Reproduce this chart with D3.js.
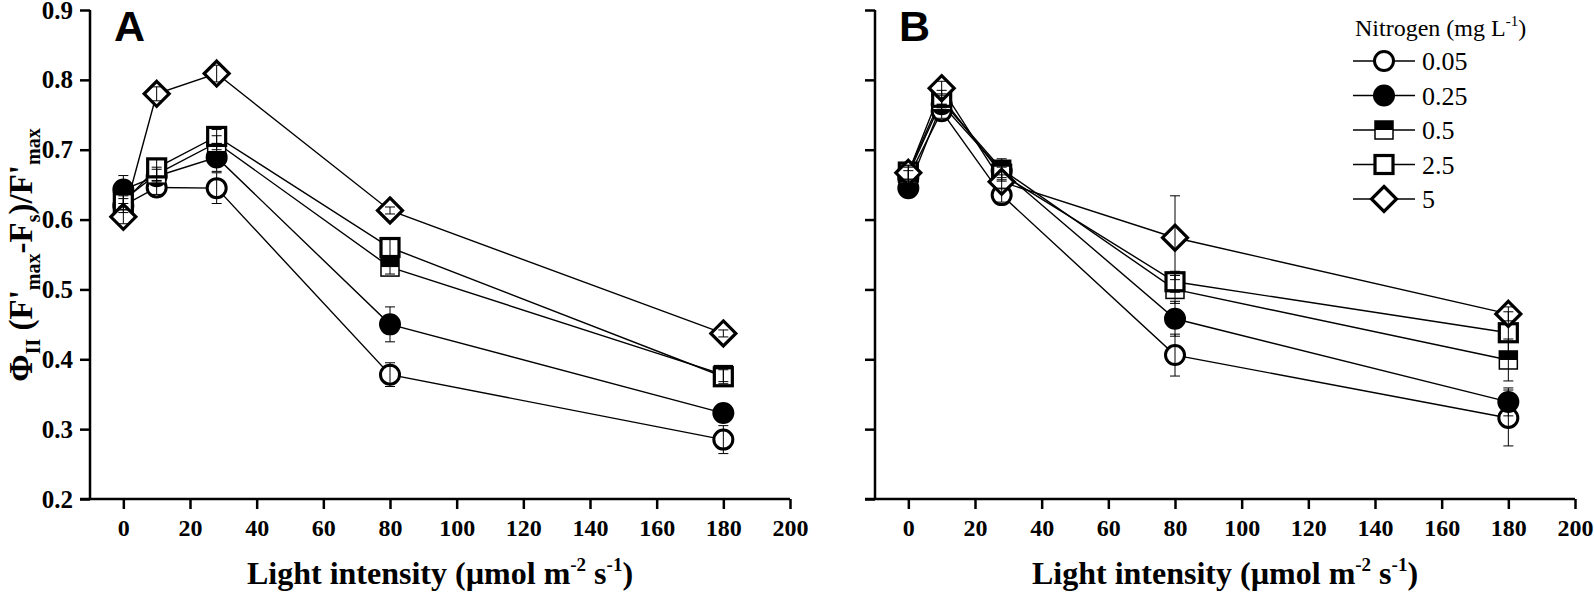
<!DOCTYPE html>
<html>
<head>
<meta charset="utf-8">
<script src="https://cdn.jsdelivr.net/npm/d3@7"></script>
<style>
  html, body { margin: 0; padding: 0; background: #fff; overflow: hidden; }
  svg { display: block; }
</style>
</head>
<body>
<script>
// light intensity levels (x)
var light = [0, 10, 28, 80, 180];
var nitrogen = ["0.05", "0.25", "0.5", "2.5", "5"];
var shapes = ["circleOpen", "circleFilled", "squareHalf", "squareOpen", "diamond"];
var yTicks = [0.2, 0.3, 0.4, 0.5, 0.6, 0.7, 0.8, 0.9];
var xTicks = [0, 20, 40, 60, 80, 100, 120, 140, 160, 180, 200];

// panel A values
var a005 = [0.620, 0.646, 0.645, 0.378, 0.285];
var a025 = [0.643, 0.662, 0.689, 0.450, 0.323];
var a05  = [0.628, 0.665, 0.710, 0.532, 0.378];
var a25  = [0.624, 0.674, 0.719, 0.560, 0.375];
var a5   = [0.604, 0.780, 0.809, 0.613, 0.437];
// panel A errors
var aErr005 = [0.010, 0.010, 0.022, 0.017, 0.020];
var aErr025 = [0.020, 0.010, 0.020, 0.025, 0.012];
var aErr05  = [0.010, 0.010, 0.010, 0.010, 0.010];
var aErr25  = [0.010, 0.012, 0.010, 0.012, 0.010];
var aErr5   = [0.010, 0.010, 0.012, 0.005, 0.005];

// panel B values
var b005 = [0.660, 0.755, 0.635, 0.406, 0.316];
var b025 = [0.645, 0.765, 0.670, 0.458, 0.339];
var b05  = [0.665, 0.770, 0.672, 0.500, 0.399];
var b25  = [0.668, 0.775, 0.665, 0.511, 0.438];
var b5   = [0.667, 0.788, 0.654, 0.574, 0.465];
// panel B errors
var bErr005 = [0.010, 0.010, 0.010, 0.030, 0.040];
var bErr025 = [0.010, 0.010, 0.010, 0.025, 0.020];
var bErr05  = [0.010, 0.010, 0.015, 0.020, 0.030];
var bErr25  = [0.010, 0.010, 0.010, 0.015, 0.030];
var bErr5   = [0.010, 0.010, 0.010, 0.060, 0.010];

var serif = '"Liberation Serif", "Times New Roman", serif';
var sans = '"Liberation Sans", Arial, sans-serif';

var width = 1594, height = 595;
var svg = d3.select('body').append('svg').attr('width', width).attr('height', height)
  .attr('font-family', serif);

var yScale = d3.scaleLinear().domain([0.2, 0.9]).range([499, 10]);

function drawMarker(g, shape, cx, cy) {
  if (shape == "circleOpen" || shape == "circleFilled") {
    g.append('circle').attr('cx', cx).attr('cy', cy).attr('r', 9.5)
      .attr('fill', shape == "circleFilled" ? 'black' : 'white')
      .attr('stroke', 'black').attr('stroke-width', 3);
  } else if (shape == "squareOpen") {
    g.append('rect').attr('x', cx - 9).attr('y', cy - 9)
      .attr('width', 18).attr('height', 18)
      .attr('fill', 'white').attr('stroke', 'black').attr('stroke-width', 3.2);
  } else if (shape == "squareHalf") {
    g.append('rect').attr('x', cx - 9).attr('y', cy - 9)
      .attr('width', 18).attr('height', 18)
      .attr('fill', 'white').attr('stroke', 'black').attr('stroke-width', 1.5);
    g.append('rect').attr('x', cx - 9).attr('y', cy - 9)
      .attr('width', 18).attr('height', 9)
      .attr('fill', 'black');
  } else if (shape == "diamond") {
    var r = 12.5;
    g.append('path')
      .attr('d', 'M' + cx + ',' + (cy - r) + 'L' + (cx + r) + ',' + cy + 'L' + cx + ',' + (cy + r) + 'L' + (cx - r) + ',' + cy + 'Z')
      .attr('fill', 'white').attr('stroke', 'black').attr('stroke-width', 3.2);
  }
}

function drawPanel(x0, x1, letter, series, errs, showLabels) {
  var xScale = d3.scaleLinear().domain([-10, 200]).range([x0, x1]);
  var g = svg.append('g');

  // axes
  var xAxis = d3.axisBottom(xScale).tickValues(xTicks).tickSize(10).tickPadding(10)
    .tickFormat(d3.format('d'));
  var gx = g.append('g').attr('transform', 'translate(0,' + yScale(0.2) + ')').call(xAxis);
  gx.select('.domain').attr('d', 'M' + (x0 - 10) + ',0H' + x1).attr('stroke-width', 2.5);
  gx.selectAll('.tick line').attr('stroke-width', 2.5);
  gx.selectAll('.tick text').attr('font-size', 24).attr('font-weight', 'bold')
    .attr('font-family', serif).attr('fill', 'black');

  var yAxis = d3.axisLeft(yScale).tickValues(yTicks).tickSize(10).tickPadding(7)
    .tickFormat(showLabels ? d3.format('.1f') : '');
  var gy = g.append('g').attr('transform', 'translate(' + x0 + ',0)').call(yAxis);
  gy.select('.domain').attr('d', 'M0,' + yScale(0.9) + 'V' + yScale(0.2)).attr('stroke-width', 2.5);
  gy.selectAll('.tick line').attr('stroke-width', 2.5);
  gy.selectAll('.tick text').attr('font-size', 25).attr('font-weight', 'bold')
    .attr('font-family', serif).attr('fill', 'black');

  // panel letter
  g.append('text').attr('x', x0 + 24).attr('y', 41).text(letter)
    .attr('font-family', sans).attr('font-weight', 'bold').attr('font-size', 43);

  // x title
  var xt = g.append('text').attr('x', (x0 + x1) / 2).attr('y', 584)
    .attr('text-anchor', 'middle').attr('font-size', 32).attr('font-weight', 'bold');
  xt.append('tspan').text('Light intensity (µmol m');
  xt.append('tspan').text('-2').attr('font-size', 19).attr('dy', -13);
  xt.append('tspan').text(' s').attr('dy', 13);
  xt.append('tspan').text('-1').attr('font-size', 19).attr('dy', -13);
  xt.append('tspan').text(')').attr('dy', 13);

  var line = d3.line()
    .x(function(d) { return xScale(d.x); })
    .y(function(d) { return yScale(d.y); });

  // lines
  series.forEach(function(vals) {
    var pts = light.map(function(x, i) { return { x: x, y: vals[i] }; });
    g.append('path').attr('d', line(pts)).attr('fill', 'none')
      .attr('stroke', 'black').attr('stroke-width', 1.4);
  });

  // markers, then error bars on top
  series.forEach(function(vals, k) {
    light.forEach(function(x, i) {
      drawMarker(g, shapes[k], xScale(x), yScale(vals[i]));
    });
  });
  series.forEach(function(vals, k) {
    light.forEach(function(x, i) {
      var cx = xScale(x), e = errs[k][i];
      var yt = yScale(vals[i] + e), yb = yScale(vals[i] - e);
      g.append('line').attr('x1', cx).attr('x2', cx).attr('y1', yt).attr('y2', yb)
        .attr('stroke', 'black').attr('stroke-width', 1);
      [yt, yb].forEach(function(yy) {
        g.append('line').attr('x1', cx - 5).attr('x2', cx + 5).attr('y1', yy).attr('y2', yy)
          .attr('stroke', 'black').attr('stroke-width', 1);
      });
    });
  });
}

drawPanel(90, 790, 'A', [a005, a025, a05, a25, a5], [aErr005, aErr025, aErr05, aErr25, aErr5], true);
drawPanel(875, 1575, 'B', [b005, b025, b05, b25, b5], [bErr005, bErr025, bErr05, bErr25, bErr5], false);

// y title
var yt = svg.append('text').attr('transform', 'translate(32,255) rotate(-90)')
  .attr('text-anchor', 'middle').attr('font-size', 33).attr('font-weight', 'bold');
yt.append('tspan').text('Φ');
yt.append('tspan').text('II').attr('font-size', 20).attr('dy', 8);
yt.append('tspan').text(' (F\'').attr('dy', -8);
yt.append('tspan').text('max').attr('font-size', 20).attr('dy', 8);
yt.append('tspan').text('-F').attr('dy', -8);
yt.append('tspan').text('s').attr('font-size', 20).attr('dy', 8);
yt.append('tspan').text(')/F\'').attr('dy', -8);
yt.append('tspan').text('max').attr('font-size', 20).attr('dy', 8);

// legend
var lg = svg.append('g');
var lt = lg.append('text').attr('x', 1355).attr('y', 36).attr('font-size', 24);
lt.append('tspan').text('Nitrogen (mg L');
lt.append('tspan').text('-1').attr('font-size', 15).attr('dy', -10);
lt.append('tspan').text(')').attr('dy', 10);
nitrogen.forEach(function(n, k) {
  var cy = 61 + k * 34.5;
  lg.append('line').attr('x1', 1353).attr('x2', 1415).attr('y1', cy).attr('y2', cy)
    .attr('stroke', 'black').attr('stroke-width', 1.4);
  drawMarker(lg, shapes[k], 1384, cy);
  lg.append('text').attr('x', 1422).attr('y', cy + 9).attr('font-size', 26).text(n);
});
</script>
</body>
</html>
